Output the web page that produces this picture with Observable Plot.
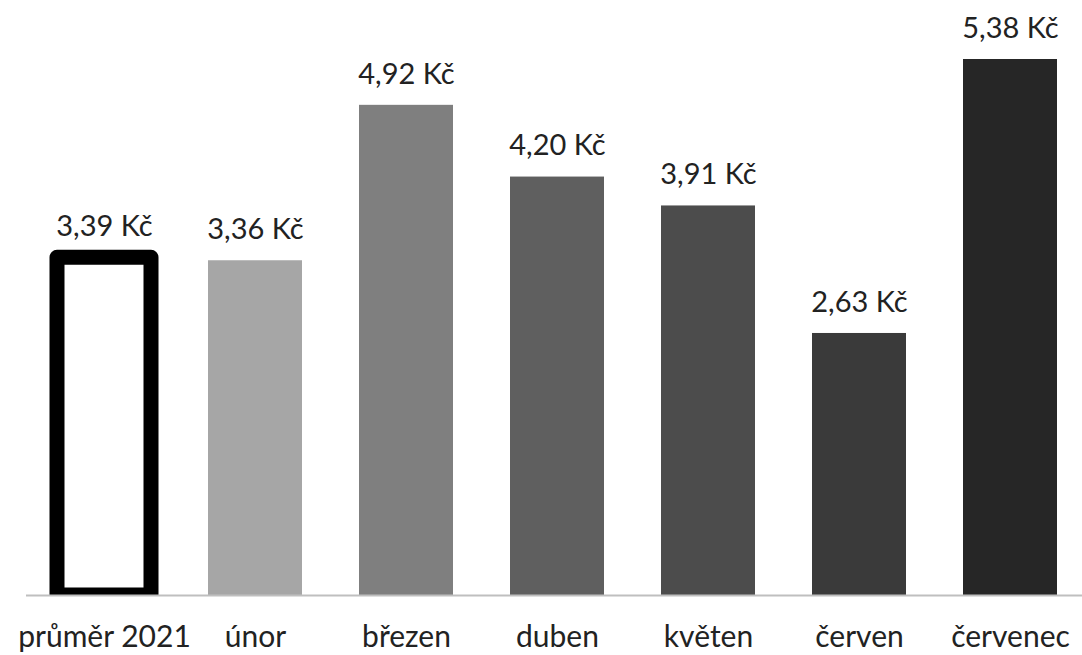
<!DOCTYPE html>
<html><head><meta charset="utf-8">
<script src="https://cdn.jsdelivr.net/npm/d3@7"></script>
<script src="https://cdn.jsdelivr.net/npm/@observablehq/plot@0.6"></script>
<style>body{margin:0;background:#fff;} svg{display:block;}</style>
</head><body><div id="chart"></div>
<script>
const categories = ["průměr 2021","únor","březen","duben","květen","červen","červenec"];
const values = [3.39,3.36,4.92,4.20,3.91,2.63,5.38];
const labels = ["3,39 Kč","3,36 Kč","4,92 Kč","4,20 Kč","3,91 Kč","2,63 Kč","5,38 Kč"];
const fills = ["#ffffff","#a6a6a6","#7f7f7f","#5f5f5f","#4c4c4c","#3a3a3a","#262626"];

const data = categories.map((c,i)=>({cat:c, v:values[i], label:labels[i], fill:fills[i], avg:i===0}));
const font = "Lato, 'Open Sans', sans-serif";

const chart = Plot.plot({
  width: 1082, height: 655,
  marginTop: 0, marginBottom: 60, marginLeft: 26, marginRight: 0,
  style: {fontFamily: font, background: "#fff", color: "#222"},
  x: {domain: categories, range: [26, 1088], paddingInner: 0.38, paddingOuter: 0.19, label: null},
  y: {domain: [0, 5.38], range: [595, 59], axis: null},
  marks: [
    Plot.barY(data.filter(d=>!d.avg), {x:"cat", y:"v", fill:"fill"}),
    Plot.barY(data.filter(d=>d.avg), {x:"cat", y:"v", fill:"#fff", stroke:"#000", strokeWidth:15, strokeLinejoin:"round", clip:true}),
    Plot.ruleY([0], {stroke:"#bfbfbf", strokeWidth:2}),
    Plot.text(data, {x:"cat", y:"v", text:"label", dy:-31, fontSize:29, fill:"#222"}),
    Plot.axisX({tickSize:0, tickPadding:30, fontSize:30, fill:"#222", label:null})
  ]
});
document.getElementById("chart").appendChild(chart);
</script></body></html>
